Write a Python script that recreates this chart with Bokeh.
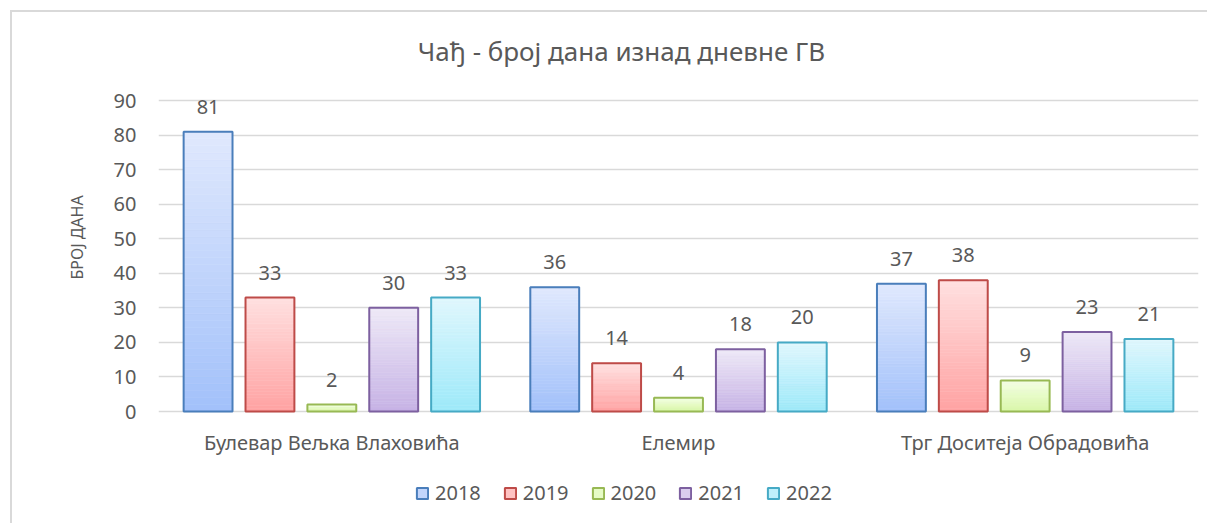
import numpy as np
from bokeh.plotting import figure
from bokeh.models import (ColumnDataSource, FactorRange, Range1d, LabelSet, Label, Title,
                          Legend, LegendItem, FixedTicker)
from bokeh.transform import dodge
from bokeh.embed import file_html
from bokeh.resources import INLINE
from bokeh.core.properties import value

# ---------------- data ----------------
stations = ["Булевар Вељка Влаховића", "Елемир", "Трг Доситеја Обрадовића"]
years = ["2018", "2019", "2020", "2021", "2022"]
v2018 = [81, 36, 37]
v2019 = [33, 14, 38]
v2020 = [2, 4, 9]
v2021 = [30, 18, 23]
v2022 = [33, 20, 21]
series = [v2018, v2019, v2020, v2021, v2022]
yticks = [0, 10, 20, 30, 40, 50, 60, 70, 80, 90]
title_text = "Чађ - број дана изнад дневне ГВ"
ylabel_text = "БРОЈ ДАНА"

# ---------------- style ----------------
top_colors = ["#e0e9fd", "#ffe0e0", "#f4ffe4", "#eee9f7", "#e0f7fd"]
bottom_colors = ["#a2c0fa", "#ffa2a2", "#d8f7a6", "#c6b2e5", "#9de9f9"]
line_colors = ["#4a7ebb", "#be4b48", "#98b954", "#7d60a0", "#46aac5"]
FONT = "Noto Sans"
TXT = "#595959"
STEP = 0.1785
BW = 0.141
NSL = 40
Y_MIN = -33     # room below the zero line for category labels and legend
Y_MAX = 115.5   # room above 90 for the chart title


def hex2rgb(h):
    h = h.lstrip("#")
    return np.array([int(h[i:i + 2], 16) for i in (0, 2, 4)], dtype=float)


def rgb2hex(c):
    return "#%02x%02x%02x" % tuple(int(round(x)) for x in c)


p = figure(width=1197, height=513, x_range=FactorRange(*stations),
           y_range=Range1d(Y_MIN, Y_MAX), x_axis_location=None,
           output_backend="svg", toolbar_location=None,
           min_border_left=146, min_border_right=11, min_border_top=0, min_border_bottom=0)
p.outline_line_color = None
p.background_fill_color = "white"
p.border_fill_color = "white"
p.styles = {"margin-left": "10px", "margin-top": "10px",
            "border-left": "2px solid #d9d9d9", "border-top": "2px solid #d9d9d9"}

p.xgrid.grid_line_color = None
p.ygrid.grid_line_color = "#d9d9d9"
p.ygrid.grid_line_width = 1.3
p.yaxis.ticker = FixedTicker(ticks=yticks)
p.yaxis.axis_line_color = None
p.yaxis.major_tick_line_color = None
p.yaxis.minor_tick_line_color = None
p.yaxis.major_tick_out = 0
p.yaxis.major_label_standoff = 22
p.yaxis.major_label_text_font = FONT
p.yaxis.major_label_text_font_size = "20px"
p.yaxis.major_label_text_color = TXT

ytitle = Title(text=ylabel_text, align="left", offset=246, standoff=45,
               text_font=FONT, text_font_size="16px", text_font_style="normal",
               text_color=TXT)
p.add_layout(ytitle, "left")

# chart title
p.add_layout(Label(x=463, y=474.5, x_units="screen", y_units="screen", text=title_text,
                   text_align="center", text_baseline="middle", text_font=FONT,
                   text_font_size="26px", text_color=TXT))

# category labels under the zero line
csrc = ColumnDataSource(dict(x=stations, y=[0] * len(stations)))
p.add_layout(LabelSet(x="x", y="y", text="x", source=csrc, y_offset=-31,
                      text_align="center", text_baseline="middle",
                      text_font=value(FONT), text_font_size="20px", text_color=TXT))

legend_items = []
for i, (yr, vals) in enumerate(zip(years, series)):
    off = (i - 2) * STEP
    c0 = hex2rgb(bottom_colors[i])
    c1 = hex2rgb(top_colors[i])
    xs, bots, tops, cols = [], [], [], []
    # slice order starts in the middle of the gradient so that row 0 gives
    # the legend swatch a mid-tone colour
    order = list(range(NSL // 2, NSL)) + list(range(0, NSL // 2))
    for st, v in zip(stations, vals):
        for k in order:
            xs.append(st)
            bots.append(v * k / NSL)
            tops.append(v * (k + 1) / NSL)
            t = (k + 0.5) / NSL
            cols.append(rgb2hex(c0 + (c1 - c0) * t))
    src = ColumnDataSource(dict(x=xs, bottom=bots, top=tops, color=cols))
    fr = p.vbar(x=dodge("x", off, range=p.x_range), bottom="bottom", top="top", width=BW,
                fill_color="color", line_color="color", line_width=0.6, source=src)
    osrc = ColumnDataSource(dict(x=stations, top=vals, lab=[str(v) for v in vals]))
    orr = p.vbar(x=dodge("x", off, range=p.x_range), bottom=0, top="top", width=BW,
                 fill_color=None, line_color=line_colors[i], line_width=2, source=osrc)
    p.add_layout(LabelSet(x=dodge("x", off, range=p.x_range), y="top", text="lab",
                          source=osrc, y_offset=25, text_align="center",
                          text_baseline="middle", text_font=value(FONT),
                          text_font_size="20px", text_color=TXT))
    legend_items.append(LegendItem(label=yr, renderers=[fr, orr], index=0))

legend = Legend(items=legend_items, orientation="horizontal", location=(257, 19),
                glyph_width=14, glyph_height=14, label_standoff=6, spacing=22,
                padding=0, margin=0, border_line_color=None, background_fill_alpha=0,
                label_text_font=FONT, label_text_font_size="20px", label_text_color=TXT)
p.add_layout(legend, "center")

open("out.html", "w").write(file_html(p, INLINE))
